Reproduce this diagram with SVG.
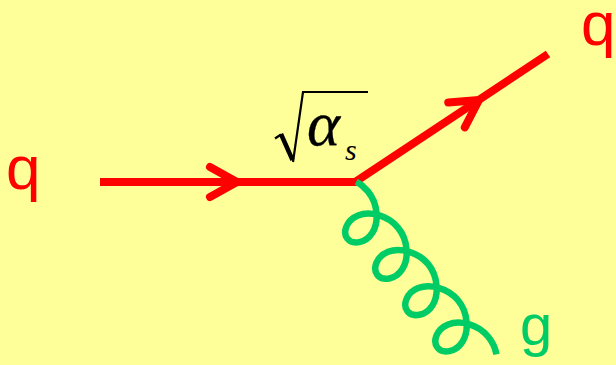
<svg xmlns="http://www.w3.org/2000/svg" width="616" height="365" viewBox="0 0 616 365">
<style>
.quark{fill:none;stroke:#FF0000;stroke-width:8}
.chev{fill:none;stroke:#FF0000;stroke-width:8;stroke-linecap:round;stroke-linejoin:round}
.gluon{fill:none;stroke:#00CC66;stroke-width:6.5;stroke-linecap:butt}
.lbl{font-family:"Liberation Sans",Arial,sans-serif;font-size:62px;fill:#FF0000}
.glbl{font-family:"Liberation Sans",Arial,sans-serif;font-size:58px;fill:#00CC66}
.math{font-family:"Liberation Serif","Times New Roman",serif;font-style:italic;fill:#000000}
.rad{fill:none;stroke:#000000;stroke-linejoin:miter}
</style>
<defs>
<path id="chevron" class="chev" d="M-27,-15 L0,0 L-27,15"/>
</defs>
<rect x="0" y="0" width="616" height="365" fill="#FFFF99"/>
<g id="connectors">
<path id="quark-line" class="quark" d="M100,182 L355,182 L548,54"/>
<use href="#chevron" transform="translate(237,182)"/>
<use href="#chevron" transform="translate(479,100) rotate(-33.55)"/>
<path id="gluon-line" class="gluon" transform="translate(355,182) rotate(50.4)" d="M0.62,-1.18 C5.23,-3.02 10.32,-4 15.4,-4 c15.97,0 30.85,10.96 34.78,23 c3.93,12.04 -3.1,23 -11.22,23 c-8.12,0 -15.15,-10.96 -11.22,-23 c3.930,-12.04 18.81,-23 34.78,-23 c15.97,0 30.85,10.96 34.78,23 c3.93,12.04 -3.1,23 -11.22,23 c-8.12,0 -15.15,-10.96 -11.22,-23 c3.93,-12.04 18.81,-23 34.78,-23 c15.97,0 30.85,10.96 34.78,23 c3.93,12.04 -3.1,23 -11.22,23 c-8.12,0 -15.15,-10.96 -11.22,-23 c3.93,-12.04 18.81,-23 34.78,-23 c15.97,0 30.85,10.96 34.78,23 c3.93,12.04 -3.1,23 -11.22,23 c-8.12,0 -15.15,-10.96 -11.22,-23 c3.93,-12.04 18.81,-23 34.78,-23 c6.71,0 13.4,1.73 19.05,4.83"/>
</g>
<g id="q-in"><text class="lbl" x="6" y="189">q</text></g>
<g id="q-out"><text class="lbl" x="581" y="45">q</text></g>
<g id="g-out"><text class="glbl" x="520" y="345">g</text></g>
<g id="coupling">
<path class="rad" stroke-width="2.2" d="M275,138.5 L281,134.5"/>
<path class="rad" stroke-width="4.5" d="M281,134 L292.5,160"/>
<path class="rad" stroke-width="2.2" d="M293,162 L303,92 L368,92"/>
<text class="math" x="307" y="145" font-size="63" stroke="#000000" stroke-width="0.3">α</text>
<text class="math" x="345" y="160" font-size="30">s</text>
</g>
</svg>
